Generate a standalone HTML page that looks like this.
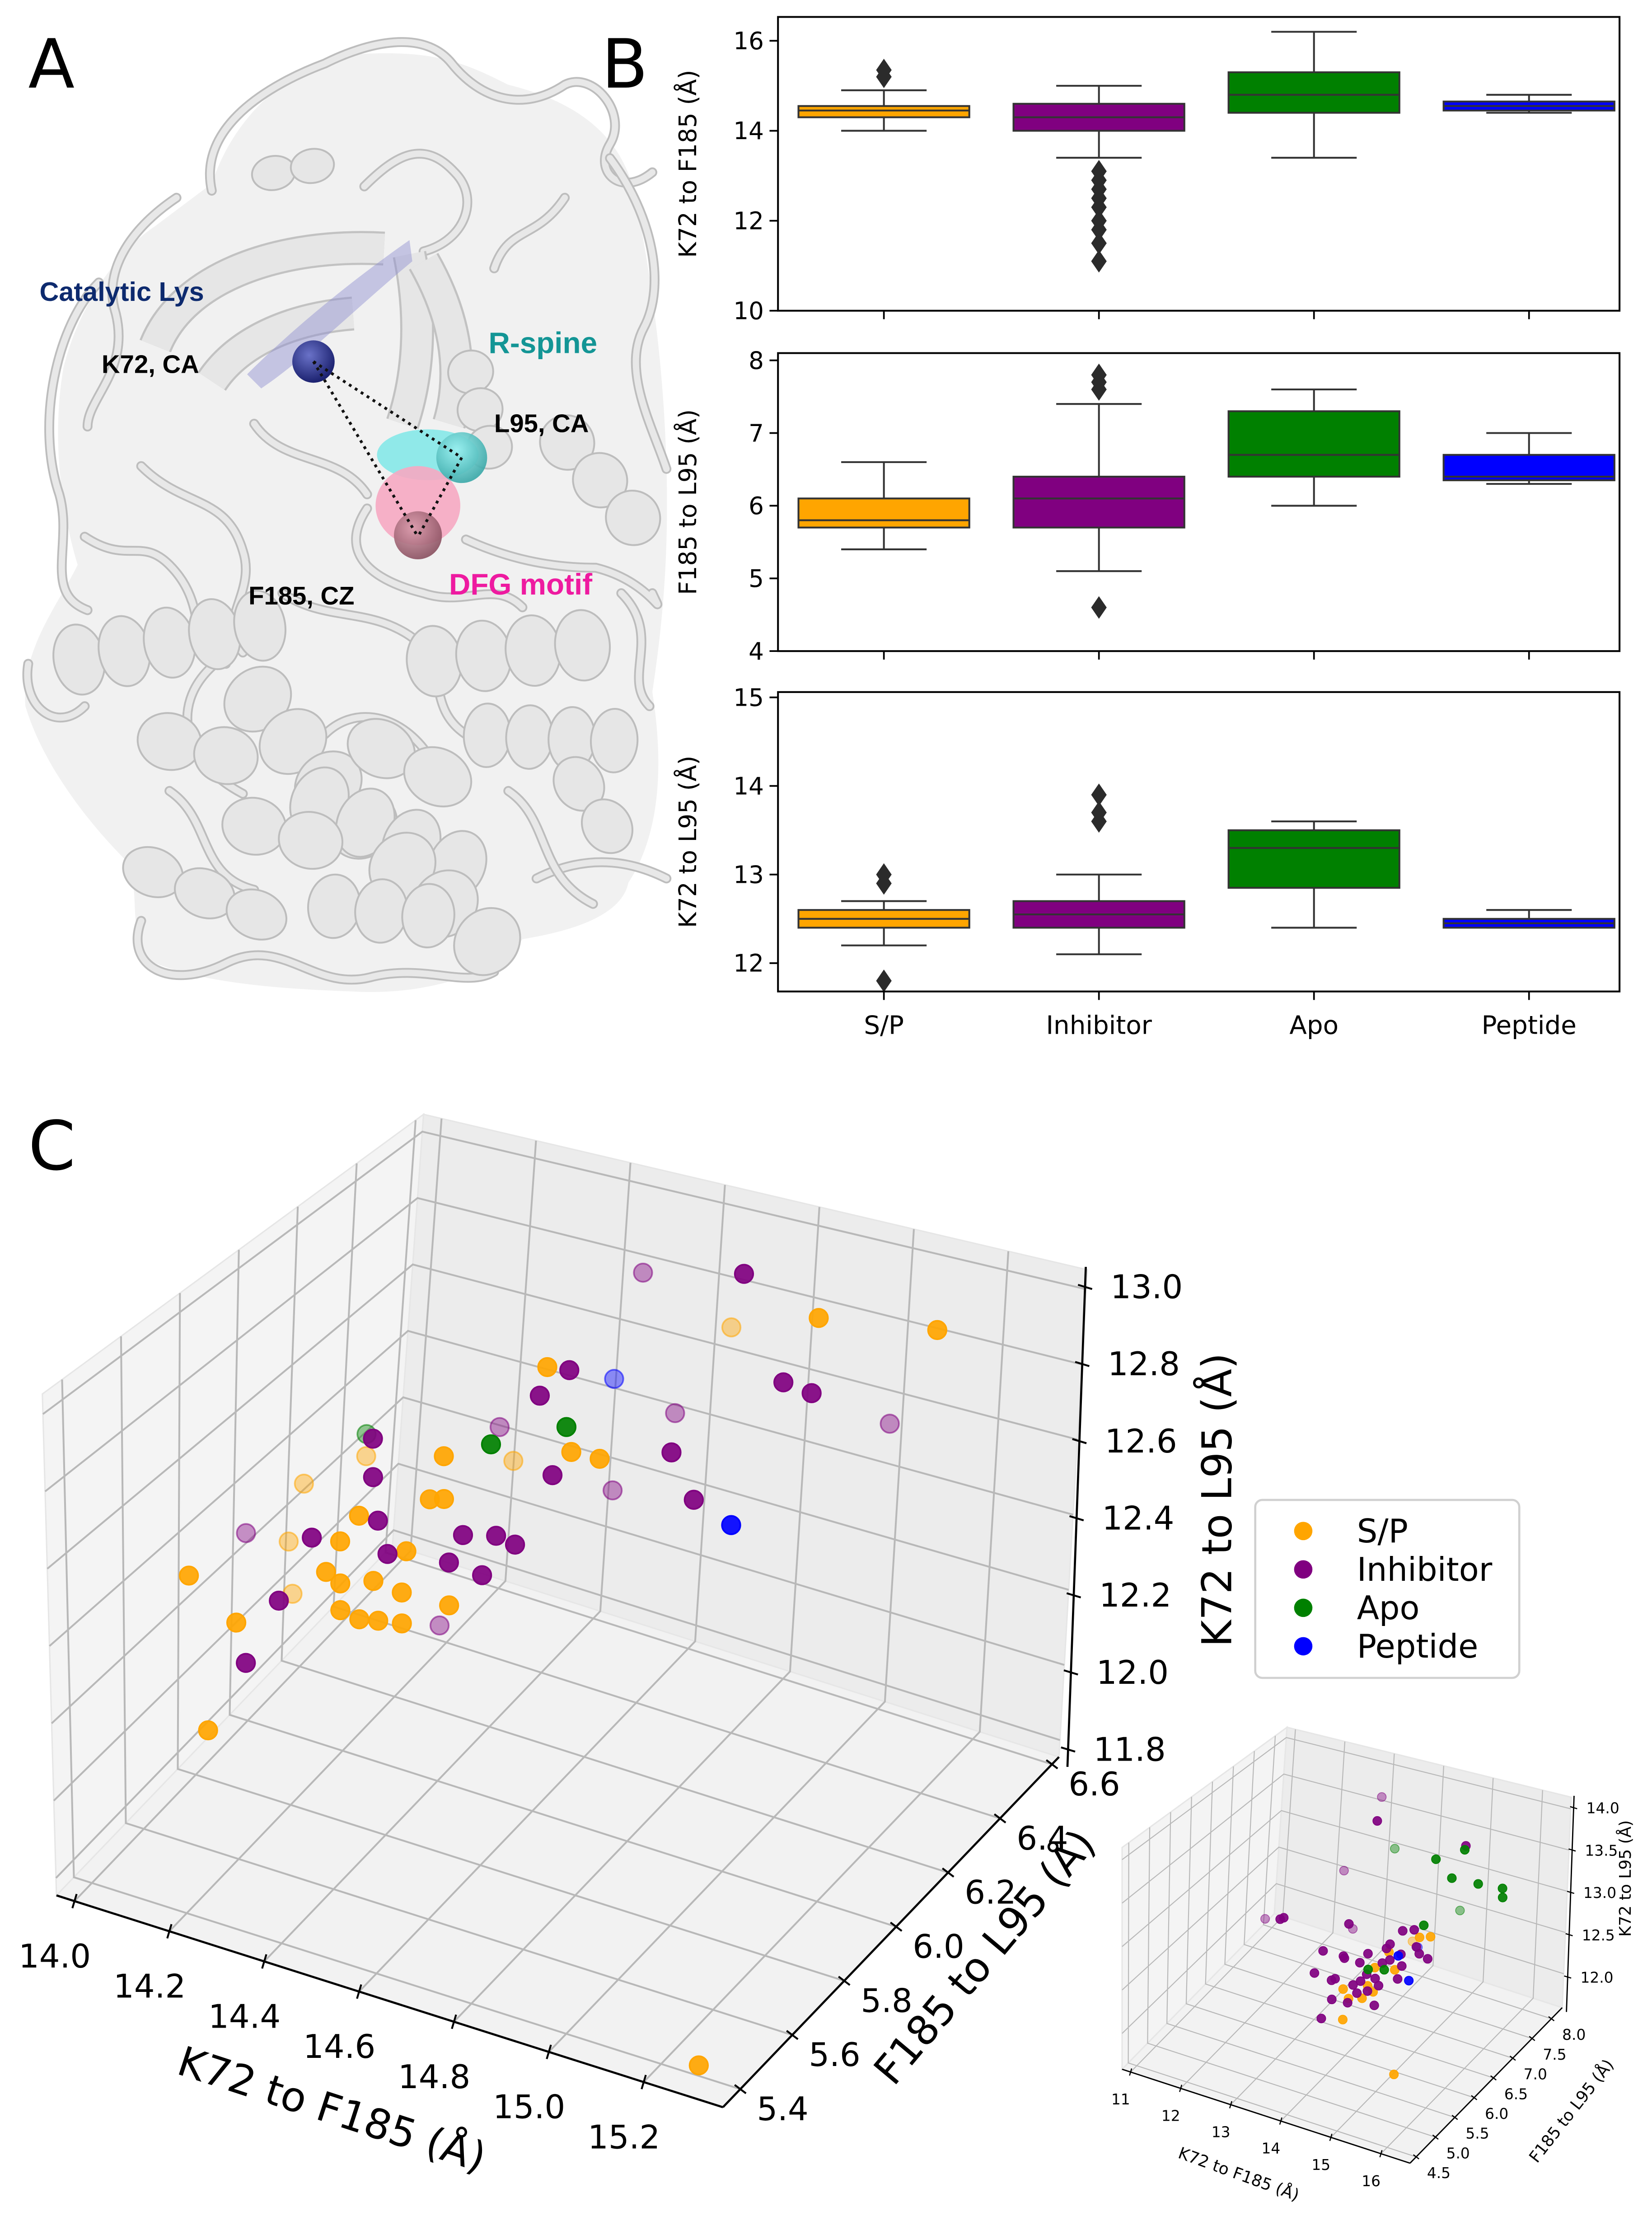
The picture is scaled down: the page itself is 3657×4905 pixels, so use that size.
<!DOCTYPE html>
<html><head><meta charset="utf-8"><style>
html,body{margin:0;padding:0;background:#fff;}
svg{display:block;font-family:"DejaVu Sans","Liberation Sans",sans-serif;}
</style></head><body>
<svg id="fig" xmlns="http://www.w3.org/2000/svg" width="3657" height="4905" viewBox="0 0 1170 1569" preserveAspectRatio="none">
<defs>
<radialGradient id="gNavy" cx="40%" cy="35%" r="65%"><stop offset="0" stop-color="#6a72c8"/><stop offset="1" stop-color="#1c2270"/></radialGradient>
<radialGradient id="gCyan" cx="40%" cy="35%" r="65%"><stop offset="0" stop-color="#9af0f0"/><stop offset="1" stop-color="#3aa8a8"/></radialGradient>
<radialGradient id="gPink" cx="40%" cy="35%" r="65%"><stop offset="0" stop-color="#d89aaa"/><stop offset="1" stop-color="#8a5060"/></radialGradient>
</defs>
<g id="panelA"></g>
<g id="panelB"></g>
<g id="panelC"></g>
<g id="inset"></g>
<text x="20" y="62" font-size="48">A</text>
<text x="426" y="62" font-size="48">B</text>
<text x="20" y="828" font-size="48">C</text>
</svg>
<script>
// ---------- Panel B data ----------
const categories = ['S/P','Inhibitor','Apo','Peptide'];
const catColors = ['#ffa500','#800080','#008000','#0000ff'];
// [whiskerLow, Q1, median, Q3, whiskerHigh]
const k72f185Box = [[14.0,14.3,14.45,14.55,14.9],[13.4,14.0,14.3,14.6,15.0],[13.4,14.4,14.8,15.3,16.2],[14.4,14.45,14.55,14.65,14.8]];
const k72f185Out = [[15.2,15.35],[13.1,12.9,12.7,12.5,12.3,12.0,11.8,11.5,11.1],[],[]];
const f185l95Box = [[5.4,5.7,5.8,6.1,6.6],[5.1,5.7,6.1,6.4,7.4],[6.0,6.4,6.7,7.3,7.6],[6.3,6.35,6.4,6.7,7.0]];
const f185l95Out = [[],[7.6,7.7,7.8,4.6],[],[]];
const k72l95Box = [[12.2,12.4,12.5,12.6,12.7],[12.1,12.4,12.55,12.7,13.0],[12.4,12.85,13.3,13.5,13.6],[12.4,12.4,12.45,12.5,12.6]];
const k72l95Out = [[12.9,13.0,11.8],[13.6,13.7,13.9],[],[]];
const ticksTop = [10,12,14,16];
const ticksMid = [4,5,6,7,8];
const ticksBot = [12,13,14,15];

// ---------- Panel C main data ----------
const spX = [15.29,15.04,14.78,14.79,14.56,14.90,14.84,14.54,14.57,14.57,14.25,14.12,14.39,14.09,14.35,14.32,14.10,14.35,14.42,14.49,14.48,14.35,14.39,14.43,14.48,14.58,14.13,14.03,14.07,15.28];
const spY = [6.24,6.24,6.37,5.72,5.98,5.72,5.72,5.72,5.72,5.72,5.98,5.98,5.72,5.98,5.72,5.72,5.98,5.72,5.72,5.72,5.72,5.72,5.72,5.72,5.72,5.72,5.72,5.72,5.72,5.40];
const spZ = [13.09,13.05,12.87,13.14,12.68,12.94,12.94,12.73,12.85,12.74,12.59,12.47,12.64,12.30,12.56,12.47,12.16,12.45,12.48,12.58,12.47,12.38,12.37,12.38,12.39,12.47,12.27,12.36,11.96,11.78];
const spFar = [2,4,10,11,13,16];
const inhX = [14.59,14.88,14.52,14.46,14.67,14.97,15.03,15.12,14.74,14.53,14.42,14.42,14.80,14.77,14.79,14.43,14.00,14.29,14.45,14.61,14.68,14.72,14.58,14.65,14.22,14.41,14.15];
const inhY = [6.37,6.24,6.24,6.24,6.37,6.24,6.24,6.37,6.24,5.98,5.72,5.72,5.72,5.98,6.24,5.72,5.98,5.72,5.72,5.72,5.72,5.72,5.72,5.72,5.72,5.98,5.72];
const inhZ = [12.96,13.12,12.75,12.66,12.60,12.86,12.85,12.72,12.60,12.76,12.85,12.75,12.87,12.67,12.49,12.64,12.29,12.55,12.56,12.66,12.68,12.67,12.58,12.57,12.36,12.19,12.17];
const inhFar = [0,4,7,9,13,16,25];
const apoX = [14.25,14.67,14.83];
const apoY = [5.98,5.72,5.72];
const apoZ = [12.65,12.91,13.00];
const apoFar = [0];
const pepX = [14.77,14.87];
const pepY = [5.98,6.24];
const pepZ = [12.96,12.45];
const pepFar = [0];
const mainXTicks = [14.0,14.2,14.4,14.6,14.8,15.0,15.2];
const mainYTicks = [5.4,5.6,5.8,6.0,6.2,6.4,6.6];
const mainZTicks = [11.8,12.0,12.2,12.4,12.6,12.8,13.0];

// ---------- Inset data ----------
const spIX = [14.10,14.10,14.21,14.48,14.70,14.59,14.73,15.01,15.06,15.20,14.92,15.44,15.13];
const spIY = [5.8,5.8,5.8,5.8,5.8,5.8,5.8,5.8,6.5,6.6,6.5,5.4,5.8];
const spIZ = [12.11,12.46,12.37,12.42,12.53,12.58,12.81,13.03,12.93,12.92,12.86,11.90,12.85];
const spIFar = [10];
const inhIX = [13.42,13.35,13.12,11.97,12.27,12.34,14.04,13.96,15.22,13.93,13.76,14.30,14.35,14.35,14.57,13.71,13.78,13.94,13.96,14.43,14.27,14.80,14.87,15.09,15.11,14.95,14.72,15.00,15.06,15.23,15.03,14.72,14.29,14.58,14.14,14.43,14.65,14.22,14.41,14.87];
const inhIY = [7.5,7.5,7.0,6.5,6.5,6.5,6.0,6.2,7.4,5.5,5.5,5.0,5.2,5.6,6.0,6,6,6,6,6,6,6,6,6,6,6.5,6.5,6.5,6.5,6.5,6,6,6,6,6,6,6,6,6,6];
const inhIZ = [13.96,13.65,13.20,12.62,12.67,12.70,13.12,12.97,13.68,12.99,12.71,12.49,12.63,12.43,12.27,12.41,12.44,12.73,12.71,12.84,12.71,12.96,13.02,12.94,12.81,13.00,12.95,12.81,12.74,12.71,12.65,12.78,12.50,12.58,12.43,12.41,12.51,12.35,12.60,12.84];
const inhIFar = [0,2,3,7];
const apoIX = [14.12,14.79,15.20,15.28,15.57,15.90,15.83,14.99,15.06,14.76,14.28];
const apoIY = [7.0,7.2,7.4,7.0,7.3,7.5,7.6,7.6,6.6,6.0,6.2];
const apoIZ = [13.63,13.53,13.63,13.46,13.32,13.24,13.08,12.78,13.03,12.71,12.55];
const apoIFar = [0,7];
const pepIX = [14.72,14.94,15.03];
const pepIY = [6.4,6.4,6.5];
const pepIZ = [12.70,12.45,12.81];
const pepIFar = [2];
const insetXTicks = [11,12,13,14,15,16];
const insetYTicks = [4.5,5.0,5.5,6.0,6.5,7.0,7.5,8.0];
const insetZTicks = [12.0,12.5,13.0,13.5,14.0];

const NS = 'http://www.w3.org/2000/svg';
function mk(tag, attrs, parent){
  const e = document.createElementNS(NS, tag);
  for (const k in attrs) e.setAttribute(k, attrs[k]);
  parent.appendChild(e);
  return e;
}
function fmt(v, d){ return v.toFixed(d); }

// ================= PANEL A (decorative structure) =================
(function(){
  const g = document.getElementById('panelA');
  const sil = mk('path', {d:"M150,130 C170,70 220,40 260,38 C310,36 330,45 360,60 C400,70 440,90 450,140 C462,200 470,260 472,330 C474,400 468,450 462,490 C470,540 468,590 445,625 C440,650 400,660 370,665 C350,690 300,705 250,702 C190,700 140,695 105,680 C90,660 100,630 90,610 C60,580 30,540 18,500 C15,460 40,430 55,400 C40,350 38,300 45,260 C55,220 80,180 110,160 Z", fill:'#f1f1f1', stroke:'none'}, g);
  
  
  const loops = [
    "M150,135 C140,90 190,60 230,45 C260,30 300,20 320,45 C340,70 370,80 400,60 C420,50 445,80 432,102 C420,122 440,140 462,122",
    "M70,200 C40,230 25,300 42,350 C52,385 30,420 62,432",
    "M125,140 C95,160 72,190 82,222 C92,262 62,282 62,302",
    "M432,112 C462,152 472,202 456,232 C440,262 462,302 472,332",
    "M100,330 C130,360 160,350 172,390 C182,420 152,440 172,462",
    "M330,382 C352,392 382,402 422,402 C462,412 472,442 462,420",
    "M258,132 C280,110 300,98 322,122 C340,140 330,170 300,178",
    "M100,652 C88,684 120,702 160,682 C200,662 222,702 262,692 C300,682 330,700 350,688",
    "M380,622 C420,602 452,612 472,622",
    "M150,472 C120,500 130,540 172,562",
    "M60,380 C90,400 100,380 120,400 C150,430 130,460 160,470",
    "M260,360 C240,390 260,410 300,420 C330,430 350,410 370,430",
    "M400,140 C380,170 360,160 350,190",
    "M180,300 C200,330 240,320 260,350",
    "M440,420 C470,450 440,480 460,500",
    "M20,470 C15,500 40,520 60,500",
    "M200,420 C230,440 260,430 290,450 C320,470 300,500 330,520",
    "M120,560 C150,580 140,620 180,630",
    "M360,560 C390,580 380,620 420,640",
    "M230,520 C250,500 280,505 300,530"
  ];
  loops.forEach(d => {
    mk('path', {d:d, fill:'none', stroke:'#bdbdbd', 'stroke-width':7, 'stroke-linecap':'round'}, g);
    mk('path', {d:d, fill:'none', stroke:'#e8e8e8', 'stroke-width':4.5, 'stroke-linecap':'round'}, g);
  });
  const strands = ["M110,245 C130,195 200,172 272,176","M150,270 C170,240 210,225 250,222","M290,180 C300,230 295,270 285,300","M300,185 C320,220 330,260 318,300"];
  strands.forEach(d => {
    mk('path', {d:d, fill:'none', stroke:'#c2c2c2', 'stroke-width':24, 'stroke-linecap':'butt'}, g);
    mk('path', {d:d, fill:'none', stroke:'#e6e6e6', 'stroke-width':21, 'stroke-linecap':'butt'}, g);
  });
  mk('path', {d:"M175,265 C200,240 240,205 290,170 L292,185 C250,220 215,255 185,275 Z", fill:'#8f8fd0', opacity:0.45}, g);
  const helices = [[40,470,200,440,50,5],[170,480,270,600,50,4],[210,560,340,620,50,4],[290,470,430,455,50,4],[330,520,450,525,45,4],[270,600,360,680,50,3],[220,640,320,650,45,3],[330,250,350,330,32,3],[390,300,460,380,38,3],[180,125,235,115,24,2],[90,610,200,655,34,3],[400,540,440,600,34,2],[100,520,180,540,40,2],[160,580,240,600,40,2],[250,520,330,560,40,2]];
  helices.forEach(h => {
    const [x1,y1,x2,y2,w,n] = h;
    const ang = Math.atan2(y2-y1, x2-x1)*180/Math.PI;
    const len = Math.hypot(x2-x1, y2-y1);
    for (let i=0;i<n;i++){
      const t = (i+0.5)/n;
      const cx = x1+(x2-x1)*t, cy = y1+(y2-y1)*t;
      mk('ellipse', {cx:cx, cy:cy, rx:len/n*0.55, ry:w/2, transform:`rotate(${ang} ${cx} ${cy})`, fill:'#e6e6e6', stroke:'#bdbdbd', 'stroke-width':1.3}, g);
    }
  });
  mk('ellipse', {cx:303, cy:322, rx:36, ry:18, fill:'#7fe8e8', opacity:0.85}, g);
  mk('ellipse', {cx:296, cy:358, rx:30, ry:28, fill:'#f6a8c2', opacity:0.9}, g);
  mk('circle', {cx:327, cy:324, r:18, fill:'url(#gCyan)', opacity:0.9}, g);
  mk('circle', {cx:296, cy:379, r:17, fill:'url(#gPink)', opacity:0.9}, g);
  mk('circle', {cx:222, cy:256, r:15, fill:'url(#gNavy)'}, g);
  const dots = [[222,256,327,324],[222,256,296,380],[327,324,296,380]];
  dots.forEach(l => mk('line', {x1:l[0], y1:l[1], x2:l[2], y2:l[3], stroke:'#111', 'stroke-width':2, 'stroke-dasharray':'2 3'}, g));
  const labels = [["Catalytic Lys",28,213,'#0d2a6e',19],["K72, CA",72,264,'#000',18],["R-spine",346,250,'#139595',21],["L95, CA",350,306,'#000',18],["F185, CZ",176,428,'#000',18],["DFG motif",318,421,'#ee1aa0',21]];
  labels.forEach(L => {
    const t = mk('text', {x:L[1], y:L[2], fill:L[3], 'font-size':L[4], 'font-weight':'bold', 'font-family':'"Liberation Sans",sans-serif'}, g);
    t.textContent = L[0];
    
    
  });
})();

// ================= PANEL B =================
(function(){
  const g = document.getElementById('panelB');
  const left = 551, right = 1147;
  const catX = i => 626 + i*152.3;
  const boxW = 121;
  const subs = [
    {y0:12, y1:220, vmax:16.53, vmin:10, ticks:ticksTop, box:k72f185Box, out:k72f185Out, title:'K72 to F185 (Å)', name:'k72-f185'},
    {y0:250, y1:461, vmax:8.1, vmin:4, ticks:ticksMid, box:f185l95Box, out:f185l95Out, title:'F185 to L95 (Å)', name:'f185-l95'},
    {y0:490, y1:702, vmax:15.06, vmin:11.68, ticks:ticksBot, box:k72l95Box, out:k72l95Out, title:'K72 to L95 (Å)', name:'k72-l95'}
  ];
  subs.forEach((s, si) => {
    const sg = mk('g', {}, g);
    
    
    const Y = v => s.y1 - (v - s.vmin)/(s.vmax - s.vmin)*(s.y1 - s.y0);
    s.ticks.forEach(t => {
      mk('line', {x1:left-6, x2:left, y1:Y(t), y2:Y(t), stroke:'#000', 'stroke-width':1.2}, sg);
      const tl = mk('text', {x:left-10, y:Y(t)+6, 'text-anchor':'end', 'font-size':17}, sg);
      tl.textContent = String(t);
      
      
    });
    categories.forEach((c, i) => {
      const b = s.box[i];
      const cx = catX(i);
      const bg = mk('g', {}, sg);
      
      
      mk('line', {x1:cx, x2:cx, y1:Y(b[0]), y2:Y(b[1]), stroke:'#333', 'stroke-width':1.3}, bg);
      mk('line', {x1:cx, x2:cx, y1:Y(b[3]), y2:Y(b[4]), stroke:'#333', 'stroke-width':1.3}, bg);
      mk('line', {x1:cx-boxW/4, x2:cx+boxW/4, y1:Y(b[0]), y2:Y(b[0]), stroke:'#333', 'stroke-width':1.3}, bg);
      mk('line', {x1:cx-boxW/4, x2:cx+boxW/4, y1:Y(b[4]), y2:Y(b[4]), stroke:'#333', 'stroke-width':1.3}, bg);
      mk('rect', {x:cx-boxW/2, y:Y(b[3]), width:boxW, height:Math.max(1,Y(b[1])-Y(b[3])), fill:catColors[i], stroke:'#333', 'stroke-width':1.3}, bg);
      mk('line', {x1:cx-boxW/2, x2:cx+boxW/2, y1:Y(b[2]), y2:Y(b[2]), stroke:'#333', 'stroke-width':1.3}, bg);
      s.out[i].forEach(o => {
        const oy = Y(o);
        const d = mk('path', {d:`M${cx},${oy-8} L${cx+5.5},${oy} L${cx},${oy+8} L${cx-5.5},${oy} Z`, fill:'#2b2b2b'}, bg);
        
        
      });
      mk('line', {x1:cx, x2:cx, y1:s.y1, y2:s.y1+6, stroke:'#000', 'stroke-width':1.2}, sg);
    });
    const fr = mk('rect', {x:left, y:s.y0, width:right-left, height:s.y1-s.y0, fill:'none', stroke:'#000', 'stroke-width':1.3}, sg);
    
    
    const cy = (s.y0+s.y1)/2;
    const tt = mk('text', {x:493, y:cy, transform:`rotate(-90 493 ${cy})`, 'text-anchor':'middle', 'font-size':17}, sg);
    tt.textContent = s.title;
    
    
  });
  categories.forEach((c, i) => {
    const t = mk('text', {x:catX(i), y:732, 'text-anchor':'middle', 'font-size':18}, g);
    t.textContent = c;
    
    
  });
})();

// ================= 3D helper (with simple perspective on vertical edges) =================
function make3D(cfg){
  return function(x, y, z){
    const tx = (x - cfg.x0)/(cfg.x1 - cfg.x0);
    const ty = (y - cfg.y0)/(cfg.y1 - cfg.y0);
    const tz = (z - cfg.z0)/(cfg.z1 - cfg.z0);
    const h = cfg.hz[0] + cfg.hz[1]*ty + cfg.hz[2]*tx;
    const lean = cfg.lz[0] + cfg.lz[1]*ty + cfg.lz[2]*tx;
    return [cfg.A[0] + cfg.Vx[0]*tx + cfg.Vy[0]*ty + lean*tz,
            cfg.A[1] + cfg.Vx[1]*tx + cfg.Vy[1]*ty - h*tz];
  };
}
function draw3D(g, cfg, P, ticks, series, opts){
  const {x0,x1,y0,y1,z0,z1} = cfg;
  const poly = pts => pts.map(p => p.join(',')).join(' ');
  const pl = mk('polygon', {points:poly([P(x0,y0,z0),P(x0,y1,z0),P(x0,y1,z1),P(x0,y0,z1)]), fill:'#f4f4f4', stroke:'#e6e6e6', 'stroke-width':1}, g);
  
  
  const pb = mk('polygon', {points:poly([P(x0,y1,z0),P(x1,y1,z0),P(x1,y1,z1),P(x0,y1,z1)]), fill:'#ececec', stroke:'#e6e6e6', 'stroke-width':1}, g);
  
  
  const pf = mk('polygon', {points:poly([P(x0,y0,z0),P(x1,y0,z0),P(x1,y1,z0),P(x0,y1,z0)]), fill:'#f2f2f2', stroke:'#e6e6e6', 'stroke-width':1}, g);
  
  
  const gs = {stroke:'#b8b8b8', 'stroke-width':opts.gw, fill:'none'};
  const line = (a,b,st) => mk('polyline', Object.assign({points:poly([a,b])}, st), g);
  ticks.x.forEach(v => { const a=P(v,y0,z0), b=P(v,y1,z0), c=P(v,y1,z1); mk('polyline', Object.assign({points:poly([a,b,c])}, gs), g); });
  ticks.y.forEach(v => { const a=P(x1,v,z0), b=P(x0,v,z0), c=P(x0,v,z1); mk('polyline', Object.assign({points:poly([a,b,c])}, gs), g); });
  ticks.z.forEach(v => { const a=P(x0,y0,v), b=P(x0,y1,v), c=P(x1,y1,v); mk('polyline', Object.assign({points:poly([a,b,c])}, gs), g); });
  const ax = line(P(x0,y0,z0), P(x1,y0,z0), {stroke:'#000','stroke-width':opts.aw});
  
  
  const ay = line(P(x1,y0,z0), P(x1,y1,z0), {stroke:'#000','stroke-width':opts.aw});
  
  
  const zA = P(x1,y1,z0), zB = P(x1,y1,z1);
  const zoff = opts.zoff;
  const az = line([zA[0]+zoff[0], zA[1]+zoff[1]], [zB[0]+zoff[2], zB[1]+zoff[3]], {stroke:'#000','stroke-width':opts.aw});
  
  
  const zAt = v => { const t=(v-z0)/(z1-z0); return [zA[0]+zoff[0]+(zB[0]+zoff[2]-zA[0]-zoff[0])*t, zA[1]+zoff[1]+(zB[1]+zoff[3]-zA[1]-zoff[1])*t]; };
  const tk = opts.tk;
  ticks.x.forEach(v => {
    const p = P(v,y0,z0);
    line([p[0]-tk*0.3,p[1]+tk], [p[0]+tk*0.3,p[1]-tk], {stroke:'#000','stroke-width':opts.aw*0.9});
    const t = mk('text', {x:p[0]+opts.xl[0], y:p[1]+opts.xl[1], 'text-anchor':'middle', 'font-size':opts.fs}, g);
    t.textContent = fmt(v, opts.xd);
    
    
  });
  ticks.y.forEach(v => {
    const p = P(x1,v,z0);
    line([p[0]-tk*0.8,p[1]-tk*0.6], [p[0]+tk*0.8,p[1]+tk*0.6], {stroke:'#000','stroke-width':opts.aw*0.9});
    const t = mk('text', {x:p[0]+opts.yl[0], y:p[1]+opts.yl[1], 'text-anchor':'middle', 'font-size':opts.fs}, g);
    t.textContent = fmt(v, opts.yd);
    
    
  });
  ticks.z.forEach(v => {
    const p = zAt(v);
    line([p[0]-tk,p[1]-tk*0.3], [p[0]+tk,p[1]+tk*0.3], {stroke:'#000','stroke-width':opts.aw*0.9});
    const t = mk('text', {x:p[0]+opts.zl[0], y:p[1]+opts.zl[1], 'text-anchor':'start', 'font-size':opts.fs}, g);
    t.textContent = fmt(v, 1);
    
    
  });
  opts.titles.forEach(T => {
    const t = mk('text', {x:T[1], y:T[2], transform:`rotate(${T[3]} ${T[1]} ${T[2]})`, 'text-anchor':'middle', 'font-size':T[4]}, g);
    t.textContent = T[0];
    
    
  });
  const pg = mk('g', {}, g);
  
  
  [true, false].forEach(farPass => {
    series.forEach(s => {
      s.x.forEach((xv, i) => {
        const isFar = s.far.indexOf(i) >= 0;
        if (isFar !== farPass) return;
        const p = P(xv, s.y[i], s.z[i]);
        const c = mk('circle', {cx:p[0], cy:p[1], r:opts.r, fill:s.color, 'fill-opacity':isFar?0.42:0.92, stroke:s.color, 'stroke-opacity':isFar?0.55:1, 'stroke-width':opts.r*0.18}, pg);
        
        
      });
    });
  });
}

// ================= PANEL C main =================
(function(){
  const g = document.getElementById('panelC');
  const cfg = {x0:13.962, x1:15.367, y0:5.333, y1:6.627, z0:11.755, z1:13.052, A:[40,1342], Vx:[472,150], Vy:[238,-248], hz:[355,-50,40], lz:[-10,32,-2]};
  const P = make3D(cfg);
  draw3D(g, cfg, P, {x:mainXTicks, y:mainYTicks, z:mainZTicks},
    [{name:'sp', color:'#ffa500', x:spX, y:spY, z:spZ, far:spFar},
     {name:'inhibitor', color:'#800080', x:inhX, y:inhY, z:inhZ, far:inhFar},
     {name:'apo', color:'#008000', x:apoX, y:apoY, z:apoZ, far:apoFar},
     {name:'peptide', color:'#0000ff', x:pepX, y:pepY, z:pepZ, far:pepFar}],
    {gw:1.3, aw:1.5, tk:5, fs:23, xd:1, yd:1, r:6.5, zoff:[6,7,-1,-2],
     xl:[-14,47], yl:[30,22], zl:[18,8],
     titles:[['K72 to F185 (Å)',232,1503,18,29,'x-axis-title'],['F185 to L95 (Å)',705,1392,-50,29,'y-axis-title'],['K72 to L95 (Å)',872,1062,-90,29,'z-axis-title']]});
  const lg = mk('g', {}, g);
  
  
  mk('rect', {x:889, y:1062, width:187, height:126, rx:5, fill:'#fff', 'fill-opacity':0.85, stroke:'#d0d0d0', 'stroke-width':1.5}, lg);
  const names = ['S/P','Inhibitor','Apo','Peptide'];
  names.forEach((n, i) => {
    const y = 1084 + i*27.2;
    const e = mk('g', {}, lg);
    
    
    mk('circle', {cx:923, cy:y, r:6.5, fill:catColors[i]}, e);
    const t = mk('text', {x:961, y:y+8, 'font-size':23}, e);
    t.textContent = n;
  });
})();

// ================= INSET =================
(function(){
  const g = document.getElementById('inset');
  const cfg = {x0:10.83, x1:16.58, y0:4.34, y1:8.28, z0:11.588, z1:14.14, A:[794.7,1465.1], Vx:[203.9,66.5], Vy:[107.8,-110.1], hz:[157,-25,17], lz:[0,9,-2.6]};
  const P = make3D(cfg);
  draw3D(g, cfg, P, {x:insetXTicks, y:insetYTicks, z:insetZTicks},
    [{name:'sp', color:'#ffa500', x:spIX, y:spIY, z:spIZ, far:spIFar},
     {name:'inhibitor', color:'#800080', x:inhIX, y:inhIY, z:inhIZ, far:inhIFar},
     {name:'apo', color:'#008000', x:apoIX, y:apoIY, z:apoIZ, far:apoIFar},
     {name:'peptide', color:'#0000ff', x:pepIX, y:pepIY, z:pepIZ, far:pepIFar}],
    {gw:0.7, aw:0.9, tk:2.5, fs:10.5, xd:0, yd:1, r:3.1, zoff:[3,3,2,-1],
     xl:[-7,23], yl:[16,15], zl:[9,4],
     titles:[['K72 to F185 (Å)',876,1543,20,11.5,'inset-x-axis-title'],['F185 to L95 (Å)',1116,1497,-52,11.5,'inset-y-axis-title'],['K72 to L95 (Å)',1155,1330,-90,11.5,'inset-z-axis-title']]});
})();
</script>
</body></html>
